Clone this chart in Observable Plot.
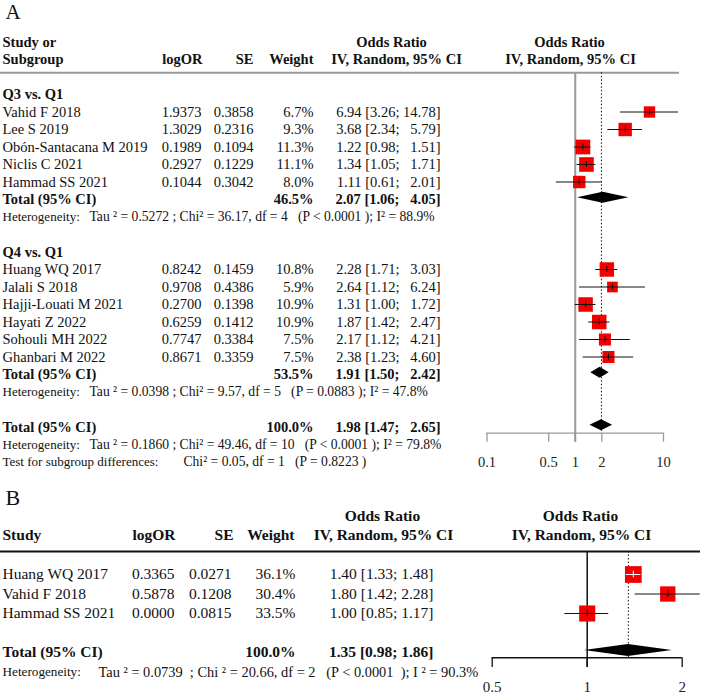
<!DOCTYPE html>
<html><head><meta charset="utf-8">
<script src="https://cdn.jsdelivr.net/npm/d3@7"></script>
<script src="https://cdn.jsdelivr.net/npm/@observablehq/plot@0.6"></script>
<style>
body{margin:0;background:#fff}
#chart svg{display:block;background:#fff}
</style>
</head><body><div id="chart"></div>
<script>
// ---------------- Panel A data ----------------
const groupLabelsA = ["Q3 vs. Q1", "Q4 vs. Q1"];
const studiesA = [
  ["Vahid F 2018", "Lee S 2019", "Obón-Santacana M 2019", "Niclis C 2021", "Hammad SS 2021"],
  ["Huang WQ 2017", "Jalali S 2018", "Hajji-Louati M 2021", "Hayati Z 2022", "Sohouli MH 2022", "Ghanbari M 2022"]
];
const logOR_A = [[1.9373, 1.3029, 0.1989, 0.2927, 0.1044], [0.8242, 0.9708, 0.2700, 0.6259, 0.7747, 0.8671]];
const seA = [[0.3858, 0.2316, 0.1094, 0.1229, 0.3042], [0.1459, 0.4386, 0.1398, 0.1412, 0.3384, 0.3359]];
const weightA = [[6.7, 9.3, 11.3, 11.1, 8.0], [10.8, 5.9, 10.9, 10.9, 7.5, 7.5]];
const orA = [[6.94, 3.68, 1.22, 1.34, 1.11], [2.28, 2.64, 1.31, 1.87, 2.17, 2.38]];
const loA = [[3.26, 2.34, 0.98, 1.05, 0.61], [1.71, 1.12, 1.00, 1.42, 1.12, 1.23]];
const hiA = [[14.78, 5.79, 1.51, 1.71, 2.01], [3.03, 6.24, 1.72, 2.47, 4.21, 4.60]];
const subWeightA = [46.5, 53.5];
const subOrA = [2.07, 1.91];
const subLoA = [1.06, 1.50];
const subHiA = [4.05, 2.42];
const hetTauA = ["0.5272", "0.0398"];
const hetChiA = ["36.17", "9.57"];
const hetDfA = [4, 5];
const hetPA = ["< 0.0001", "= 0.0883"];
const hetI2A = ["88.9", "47.8"];
const overallA = [100.0, 1.98, 1.47, 2.65];            // weight, OR, lower, upper
const overallHetA = ["0.1860", "49.46", 10, "< 0.0001", "79.8"];
const testA = ["0.05", 1, "= 0.8223"];
const ticksA = [0.1, 0.5, 1, 2, 10];
const headersA = ["Study or", "Subgroup", "logOR", "SE", "Weight", "Odds Ratio", "IV, Random, 95% CI"];

// ---------------- Panel B data ----------------
const studiesB = ["Huang WQ 2017", "Vahid F 2018", "Hammad SS 2021"];
const logOR_B = [0.3365, 0.5878, 0.0000];
const seB = [0.0271, 0.1208, 0.0815];
const weightB = [36.1, 30.4, 33.5];
const orB = [1.40, 1.80, 1.00];
const loB = [1.33, 1.42, 0.85];
const hiB = [1.48, 2.28, 1.17];
const overallB = [100.0, 1.35, 0.98, 1.86];
const overallHetB = ["0.0739", "20.66", 2, "< 0.0001", "90.3"];
const ticksB = [0.5, 1, 2];
const headersB = ["Study", "logOR", "SE", "Weight", "Odds Ratio", "IV, Random, 95% CI"];

// ---------------- helpers ----------------
const serif = "Liberation Serif, Times New Roman, serif";
const NB = "\u00a0";
function ciText(or, lo, hi, pad) {
  const h = hi.toFixed(2);
  return `${or.toFixed(2)} [${lo.toFixed(2)}; ${pad ? h.padStart(5, "\u2007") : h}]`;
}

// build rows for A
const rowsA = [];
let r = 0;
groupLabelsA.forEach((g, gi) => {
  rowsA.push({row: r++, kind: "group", label: g});
  studiesA[gi].forEach((name, j) => rowsA.push({
    row: r++, kind: "study", label: name, logOR: logOR_A[gi][j], se: seA[gi][j],
    w: weightA[gi][j], or: orA[gi][j], lo: loA[gi][j], hi: hiA[gi][j]
  }));
  rowsA.push({row: r++, kind: "total", label: "Total (95% CI)", w: subWeightA[gi], or: subOrA[gi], lo: subLoA[gi], hi: subHiA[gi]});
  rowsA.push({row: r++, kind: "het", label: "Heterogeneity:",
    stats: `Tau${NB}² = ${hetTauA[gi]} ; Chi² = ${hetChiA[gi]}, df = ${hetDfA[gi]}${NB}${NB}${NB}(P ${hetPA[gi]} ); I² = ${hetI2A[gi]}%`});
  r++;
});
rowsA.push({row: r++, kind: "total", label: "Total (95% CI)", w: overallA[0], or: overallA[1], lo: overallA[2], hi: overallA[3], overall: true});
rowsA.push({row: r++, kind: "het", label: "Heterogeneity:",
  stats: `Tau${NB}² = ${overallHetA[0]} ; Chi² = ${overallHetA[1]}, df = ${overallHetA[2]}${NB}${NB}${NB}(P ${overallHetA[3]} ); I² = ${overallHetA[4]}%`});
rowsA.push({row: r++, kind: "test", label: "Test for subgroup differences:",
  stats: `Chi² = ${testA[0]}, df = ${testA[1]}${NB}${NB}${NB}(P ${testA[2]} )`});

// build rows for B
const rowsB = [];
studiesB.forEach((name, j) => rowsB.push({row: j, kind: "study", label: name, logOR: logOR_B[j], se: seB[j],
  w: weightB[j], or: orB[j], lo: loB[j], hi: hiB[j]}));
rowsB.push({row: studiesB.length + 1, kind: "total", label: "Total (95% CI)", w: overallB[0], or: overallB[1], lo: overallB[2], hi: overallB[3], overall: true});
rowsB.push({row: studiesB.length + 2, kind: "het", label: "Heterogeneity:",
  stats: `Tau${NB}² = ${overallHetB[0]}${NB} ; Chi${NB}² = ${overallHetB[1]}, df = ${overallHetB[2]}${NB}${NB}${NB}(P ${overallHetB[3]}${NB} ); I${NB}² = ${overallHetB[4]}%`});

function diamonds(rows, half, shift) {
  return rows.filter(d => d.kind === "total").flatMap(d => {
    const c = d.row - shift;
    return [
      {id: d.row, x: d.lo, y1: c, y2: c},
      {id: d.row, x: d.or, y1: c - half, y2: c + half},
      {id: d.row, x: d.hi, y1: c, y2: c}
    ];
  });
}

function panel(cfg) {
  const {rows, headers, L, width, height, xScale, yScale, fs, fsHetLabel, fsHet, rScale, lineColor, lineW,
         hdrRow, axisRow, tickEnd, tickLabelRow, ticks, overallOR, letter, letterRow, hetDx, testDx, tickFs} = cfg;
  const studies = rows.filter(d => d.kind === "study");
  const totals = rows.filter(d => d.kind === "total");
  const boldLabels = rows.filter(d => d.kind === "group" || d.kind === "total");
  // pixels per log unit, to decide whether a CI fits inside its square
  const pxPerLog = (xScale.range[1] - xScale.range[0]) / (Math.log(xScale.domain[1]) - Math.log(xScale.domain[0]));
  const side = d => rScale.range[1] * Math.sqrt(d.w / rScale.domain[1]) * Math.sqrt(Math.PI);
  const inside = d => (Math.log(d.hi) - Math.log(d.lo)) * pxPerLog < side(d);
  const base = {frameAnchor: "left", fontFamily: serif, fill: "#111", fontSize: fs};
  const marks = [
    // panel letter
    Plot.text([letter], {...base, y: [letterRow], dx: 5, textAnchor: "start", fontSize: fs + 6.5}),
    // header line
    Plot.ruleY([hdrRow], {stroke: lineColor, strokeWidth: 2}),
    // reference line at OR = 1
    Plot.ruleX([1], {y1: hdrRow, y2: tickEnd, stroke: lineColor, strokeWidth: lineW}),
    // dotted overall line
    Plot.ruleX([overallOR], {y1: hdrRow, y2: axisRow, stroke: "#111", strokeWidth: 1, strokeDasharray: "1.5,2"}),
    // axis
    Plot.ruleY([axisRow], {x1: ticks[0], x2: ticks[ticks.length - 1], stroke: lineColor, strokeWidth: 1.3}),
    Plot.ruleX(ticks, {x: d => d, y1: axisRow, y2: tickEnd, stroke: lineColor, strokeWidth: 1.3}),
    Plot.text(ticks, {fontFamily: serif, x: d => d, y: () => tickLabelRow, text: d => String(d), fontSize: tickFs, fill: "#222"}),
    // squares
    Plot.dot(studies, {x: "or", y: "row", r: "w", symbol: "square", fill: "#f20000"}),
    // CI lines
    Plot.ruleY(studies.filter(d => !inside(d)), {y: "row", x1: "lo", x2: "hi", stroke: "#111", strokeWidth: 1}),
    Plot.ruleY(studies.filter(inside), {y: "row", x1: "lo", x2: "hi", stroke: "#fff", strokeWidth: 1}),
    Plot.ruleX(studies.filter(d => !inside(d)), {x: "or", y1: d => d.row - 0.17, y2: d => d.row + 0.17, stroke: "#111", strokeWidth: 1}),
    Plot.ruleX(studies.filter(inside), {x: "or", y1: d => d.row - 0.17, y2: d => d.row + 0.17, stroke: "#fff", strokeWidth: 1}),
    // diamonds
    Plot.area(diamonds(rows, 0.31, 0.1), {x1: "x", y1: "y1", y2: "y2", z: "id", fill: "#000"}),
    // headers
    ...headers.map(h => Plot.text([h.t], {...base, y: [h.row], dx: h.x, textAnchor: h.a, fontWeight: "bold"})),
    // table text
    Plot.text(studies, {...base, y: "row", text: "label", dx: 2, textAnchor: "start"}),
    Plot.text(boldLabels, {...base, y: "row", text: "label", dx: 2, textAnchor: "start", fontWeight: "bold"}),
    Plot.text(studies, {...base, y: "row", text: d => d.logOR.toFixed(4), dx: L.logOR, textAnchor: "end"}),
    Plot.text(studies, {...base, y: "row", text: d => d.se.toFixed(4), dx: L.se, textAnchor: "end"}),
    Plot.text(studies, {...base, y: "row", text: d => d.w.toFixed(1) + "%", dx: L.weight, textAnchor: "end"}),
    Plot.text(totals, {...base, y: "row", text: d => d.w.toFixed(1) + "%", dx: L.weight, textAnchor: "end", fontWeight: "bold"}),
    Plot.text(studies, {...base, y: "row", text: d => ciText(d.or, d.lo, d.hi, cfg.pad), dx: L.ci, textAnchor: "end"}),
    Plot.text(totals, {...base, y: "row", text: d => ciText(d.or, d.lo, d.hi, cfg.pad), dx: L.ci, textAnchor: "end", fontWeight: "bold"}),
    Plot.text(rows.filter(d => d.kind === "het" || d.kind === "test"), {...base, y: "row", text: "label", dx: 2, textAnchor: "start", fontSize: fsHetLabel}),
    Plot.text(rows.filter(d => d.kind === "het"), {...base, y: "row", text: "stats", dx: hetDx, textAnchor: "start", fontSize: fsHet}),
    Plot.text(rows.filter(d => d.kind === "test"), {...base, y: "row", text: "stats", dx: testDx, textAnchor: "start", fontSize: fsHet})
  ];
  return Plot.plot({
    width, height, marginLeft: 0, marginRight: cfg.marginRight, marginTop: 0, marginBottom: 0,
    x: {...xScale, axis: null},
    y: {...yScale, axis: null},
    r: rScale,
    marks
  });
}

// ---------- Panel A ----------
const LA = {logOR: 201, se: 253, weight: 313, ci: 440};
const svgA = panel({
  rows: rowsA, L: LA, width: 702, height: 476, marginRight: 23, pad: true,
  xScale: {type: "log", domain: [0.1, 10], range: [486.5, 663]},
  yScale: {type: "linear", domain: [0, 21], range: [94, 461.5]},
  rScale: {type: "sqrt", domain: [0, 100], range: [0, 24.8]},
  fs: 14.5, fsHetLabel: 13, fsHet: 13.6, tickFs: 14.5, lineColor: "#999", lineW: 2,
  hdrRow: -1.24, axisRow: 19.35, tickEnd: 19.87, tickLabelRow: 21, ticks: ticksA, overallOR: overallA[1],
  letter: "A", letterRow: -4.7, hetDx: 89, testDx: 183,
  headers: [
    {t: headersA[0], row: -3, x: 2, a: "start"},
    {t: headersA[1], row: -2, x: 2, a: "start"},
    {t: headersA[2], row: -2, x: 202, a: "end"},
    {t: headersA[3], row: -2, x: 253, a: "end"},
    {t: headersA[4], row: -2, x: 313, a: "end"},
    {t: headersA[5], row: -3, x: 391, a: "middle"},
    {t: headersA[6], row: -2, x: 396, a: "middle"},
    {t: headersA[5], row: -3, x: 569, a: "middle"},
    {t: headersA[6], row: -2, x: 570, a: "middle"}
  ]
});

// ---------- Panel B ----------
const LB = {logOR: 174, se: 231, weight: 295, ci: 433};
const svgB = panel({
  rows: rowsB, L: LB, width: 702, height: 220, marginRight: 2, pad: false,
  xScale: {type: "log", domain: [0.5, 2], range: [491.7, 681.7]},
  yScale: {type: "linear", domain: [0, 5], range: [98, 195.5]},
  rScale: {type: "sqrt", domain: [0, 100], range: [0, 15.7]},
  fs: 15.5, fsHetLabel: 13.2, fsHet: 14.4, tickFs: 15, lineColor: "#111", lineW: 1.5,
  hdrRow: -1.18, axisRow: 4.27, tickEnd: 4.77, tickLabelRow: 5.78, ticks: ticksB, overallOR: overallB[1],
  letter: "B", letterRow: -3.9, hetDx: 98, testDx: 0,
  headers: [
    {t: headersB[0], row: -2, x: 2, a: "start"},
    {t: headersB[1], row: -2, x: 175, a: "end"},
    {t: headersB[2], row: -2, x: 233, a: "end"},
    {t: headersB[3], row: -2, x: 294, a: "end"},
    {t: headersB[4], row: -3, x: 382, a: "middle"},
    {t: headersB[5], row: -2, x: 383, a: "middle"},
    {t: headersB[4], row: -3, x: 580, a: "middle"},
    {t: headersB[5], row: -2, x: 581, a: "middle"}
  ]
});

const chart = document.getElementById("chart");
chart.appendChild(svgA);
chart.appendChild(svgB);
</script>
</body></html>
